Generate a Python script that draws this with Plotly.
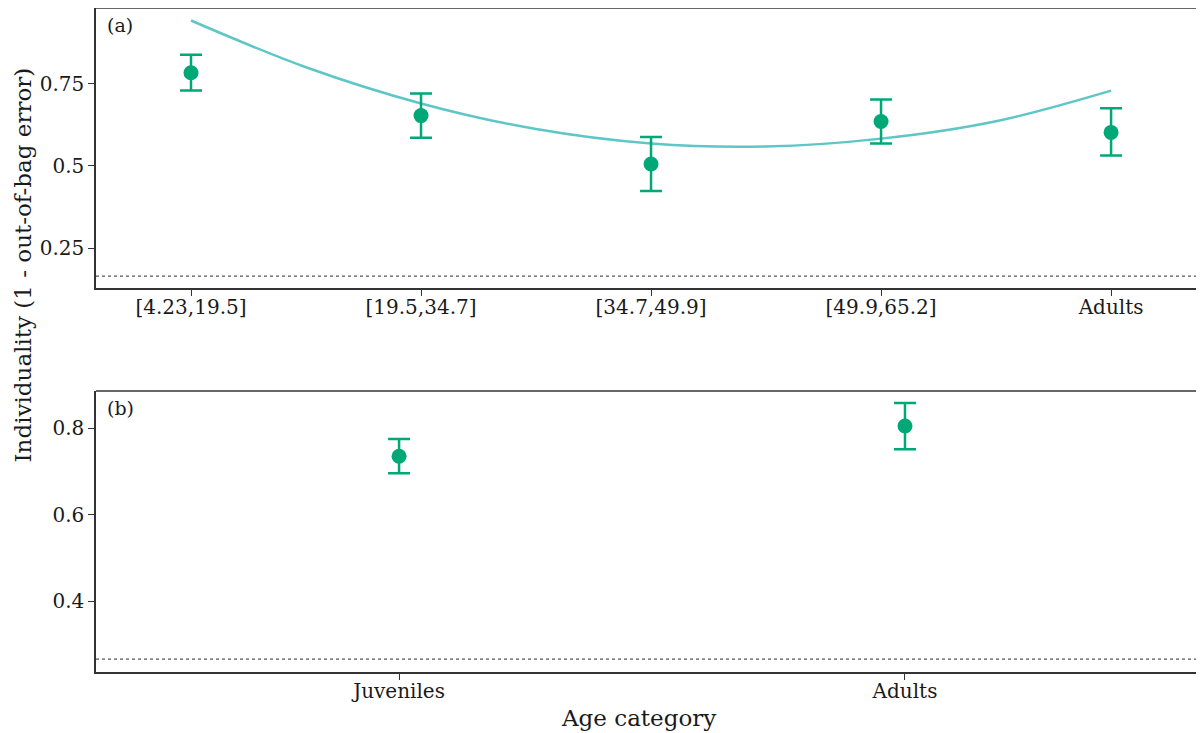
import plotly.graph_objects as go

# ---- data ----
cats_a = ["[4.23,19.5]", "[19.5,34.7]", "[34.7,49.9]", "[49.9,65.2]", "Adults"]
mean_a = [0.783, 0.653, 0.506, 0.635, 0.602]
upper_a = [0.838, 0.720, 0.588, 0.702, 0.675]
lower_a = [0.729, 0.586, 0.424, 0.568, 0.532]

curve_pos = [0, 0.5, 1, 1.5, 2, 2.5, 3, 3.5, 4]
curve_val = [0.942, 0.80, 0.69, 0.612, 0.568, 0.559, 0.583, 0.636, 0.729]

chance_a = 0.165

cats_b = ["Juveniles", "Adults"]
mean_b = [0.735, 0.805]
upper_b = [0.775, 0.858]
lower_b = [0.696, 0.751]

chance_b = 0.266

yticks_a = [0.25, 0.5, 0.75]
yticklabels_a = ["0.25", "0.5", "0.75"]
yticks_b = [0.4, 0.6, 0.8]
yticklabels_b = ["0.4", "0.6", "0.8"]

# ---- styles ----
GREEN = "#00a878"
TEAL = "#5ec6c6"
AXC = "#333333"
TXT = "#1a1a1a"
FONT = "DejaVu Serif"

fig = go.Figure()

pos_a = list(range(len(cats_a)))
pos_b = list(range(len(cats_b)))

fig.add_trace(go.Scatter(
    x=curve_pos, y=curve_val, mode="lines", line=dict(color=TEAL, width=2.5, shape="spline"),
    xaxis="x", yaxis="y", showlegend=False, hoverinfo="skip"))

fig.add_trace(go.Scatter(
    x=pos_a, y=mean_a, mode="markers",
    marker=dict(color=GREEN, size=15),
    error_y=dict(type="data", symmetric=False,
                 array=[u - m for u, m in zip(upper_a, mean_a)],
                 arrayminus=[m - l for m, l in zip(mean_a, lower_a)],
                 color=GREEN, thickness=2.5, width=11),
    xaxis="x", yaxis="y", showlegend=False))

fig.add_trace(go.Scatter(
    x=pos_b, y=mean_b, mode="markers",
    marker=dict(color=GREEN, size=15),
    error_y=dict(type="data", symmetric=False,
                 array=[u - m for u, m in zip(upper_b, mean_b)],
                 arrayminus=[m - l for m, l in zip(mean_b, lower_b)],
                 color=GREEN, thickness=2.5, width=11),
    xaxis="x2", yaxis="y2", showlegend=False))

dom_a = [0.5783, 1.0]
dom_b = [0.0, 0.4232]

axis_common = dict(showline=True, linecolor=AXC, linewidth=1.5, ticks="outside",
                   ticklen=6, tickwidth=1.2, tickcolor=AXC, showgrid=False, zeroline=False,
                   tickfont=dict(family=FONT, size=20, color=TXT), mirror=False)

fig.update_layout(
    width=1204, height=725,
    margin=dict(l=88, r=8, t=0, b=61),
    plot_bgcolor="white", paper_bgcolor="white",
    font=dict(family=FONT, color=TXT),
    xaxis=dict(domain=[0, 1], anchor="y", range=[-0.413, 4.404], ticklabelstandoff=-6,
               tickmode="array", tickvals=pos_a, ticktext=cats_a, **axis_common),
    yaxis=dict(domain=dom_a, anchor="x", range=[0.129, 0.98],
               tickmode="array", tickvals=yticks_a, ticktext=yticklabels_a, **axis_common),
    xaxis2=dict(domain=[0, 1], anchor="y2", range=[-0.599, 1.591], ticklabelstandoff=-6,
                tickmode="array", tickvals=pos_b, ticktext=cats_b, **axis_common),
    yaxis2=dict(domain=dom_b, anchor="x2", range=[0.236, 0.886],
                tickmode="array", tickvals=yticks_b, ticktext=yticklabels_b, **axis_common),
)

# chance-level dotted lines
fig.add_shape(type="line", xref="x domain", yref="y", x0=0, x1=1, y0=chance_a, y1=chance_a,
              line=dict(color="#555555", width=1.3, dash="dot"))
fig.add_shape(type="line", xref="x2 domain", yref="y2", x0=0, x1=1, y0=chance_b, y1=chance_b,
              line=dict(color="#555555", width=1.3, dash="dot"))

# top borders
for yd in (dom_a[1], dom_b[1]):
    fig.add_shape(type="line", xref="paper", yref="paper", x0=0, x1=1, y0=yd, y1=yd,
                  line=dict(color=AXC, width=1.5))

# panel labels
fig.add_annotation(text="(a)", xref="x domain", yref="y domain", x=0.008, y=0.985,
                   xanchor="left", yanchor="top", showarrow=False,
                   font=dict(family=FONT, size=19, color=TXT))
fig.add_annotation(text="(b)", xref="x2 domain", yref="y2 domain", x=0.008, y=0.985,
                   xanchor="left", yanchor="top", showarrow=False,
                   font=dict(family=FONT, size=19, color=TXT))

# axis titles
fig.add_annotation(text="Individuality (1 - out-of-bag error)", xref="paper", yref="paper",
                   x=-0.0659, y=0.6137, xanchor="center", yanchor="middle", textangle=-90,
                   showarrow=False, font=dict(family=FONT, size=23, color=TXT))
fig.add_annotation(text="Age category", xref="paper", yref="paper",
                   x=0.490, y=-0.0693, xanchor="center", yanchor="middle",
                   showarrow=False, font=dict(family=FONT, size=23, color=TXT))

fig.write_html("out.html")
